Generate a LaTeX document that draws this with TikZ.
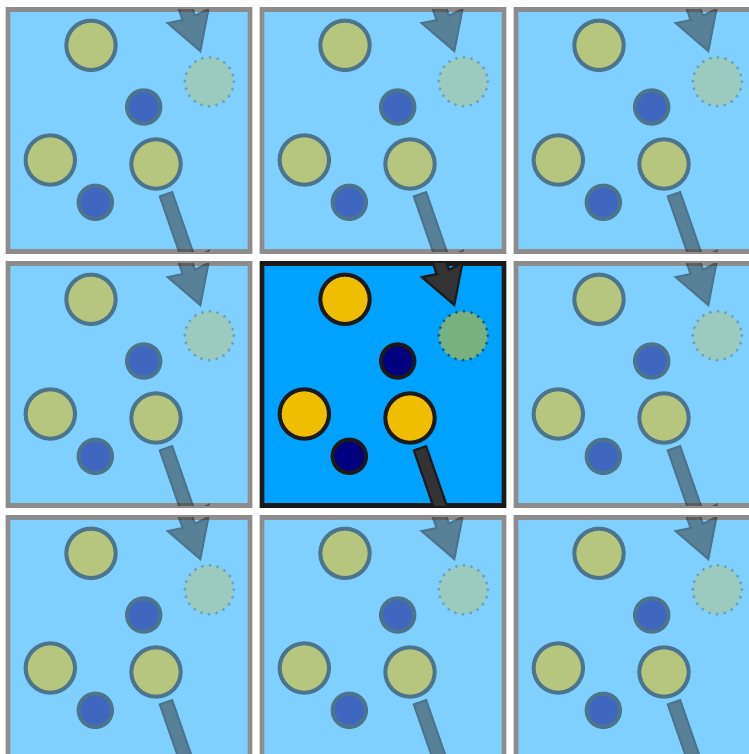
\documentclass[tikz,border=0pt]{standalone}
\usetikzlibrary{calc}
\definecolor{cellblue}{RGB}{0,162,255}
\definecolor{pyellow}{RGB}{240,190,0}
\definecolor{pnavy}{RGB}{0,0,128}
\definecolor{pstroke}{RGB}{26,26,26}
\definecolor{shaftgray}{RGB}{51,51,51}
\tikzset{
  cellbox/.style={fill=cellblue, draw=pstroke, line width=3.4pt},
  bigp/.style={fill=pyellow, draw=pstroke, line width=3pt},
  smallp/.style={fill=pnavy, draw=pstroke, line width=3pt},
  ghostp/.style={fill=pyellow, draw=pstroke, line width=2.5pt, line cap=round, dash pattern=on 0pt off 5.8pt},
  arrowshape/.style={fill=shaftgray, draw=pstroke, line width=1.6pt, line join=miter},
}
% one element, composited as a whole at opacity #1
\newcommand{\grp}[2]{%
  \begin{scope}[transparency group, opacity=#1]#2\end{scope}}
\newcommand{\arrowpoly}{%
  \path[arrowshape] (164.14,182.67) -- (186.95,248.31) -- (200.46,241.49) -- (192.3,283.5)
    -- (159.84,255.61) -- (174.67,252.57) -- (151.86,186.93) -- cycle;}
\newcommand{\pbcell}[3]{%
  \begin{scope}[shift={(#1,#2)}]
    \pgfmathsetmacro\opA{#3}%
    \pgfmathsetmacro\opB{#3*0.5}%
    \grp{\opA}{\path[cellbox] (0,0) rectangle (242,242);}
    \begin{scope}
      \clip (0,0) rectangle (242,242);
      \grp{\opA}{\path[bigp] (83,35.8) circle[radius=24.7];}
      \grp{\opA}{\path[smallp] (135.7,97.5) circle[radius=16.7];}
      \grp{\opA}{\path[bigp] (42.3,150.5) circle[radius=24.7];}
      \grp{\opA}{\path[bigp] (148,154.5) circle[radius=24.7];}
      \grp{\opA}{\path[smallp] (87.3,192.8) circle[radius=16.7];}
      \grp{\opB}{\path[ghostp] (201.3,72.2) circle[radius=24.5];}
      \grp{\opA}{\arrowpoly}
      \grp{\opA}{\begin{scope}[shift={(0,-242)}]\arrowpoly\end{scope}}
    \end{scope}
  \end{scope}}
\begin{document}
\begin{tikzpicture}[x=0.75pt,y=-0.75pt]
  \fill[white] (0,0) rectangle (749,754);
  \useasboundingbox (0,0) rectangle (749,754);
  \pbcell{8}{9.5}{0.5}
  \pbcell{262}{9.5}{0.5}
  \pbcell{516}{9.5}{0.5}
  \pbcell{8}{263.5}{0.5}
  \pbcell{262}{263.5}{1}
  \pbcell{516}{263.5}{0.5}
  \pbcell{8}{517.5}{0.5}
  \pbcell{262}{517.5}{0.5}
  \pbcell{516}{517.5}{0.5}
\end{tikzpicture}
\end{document}
